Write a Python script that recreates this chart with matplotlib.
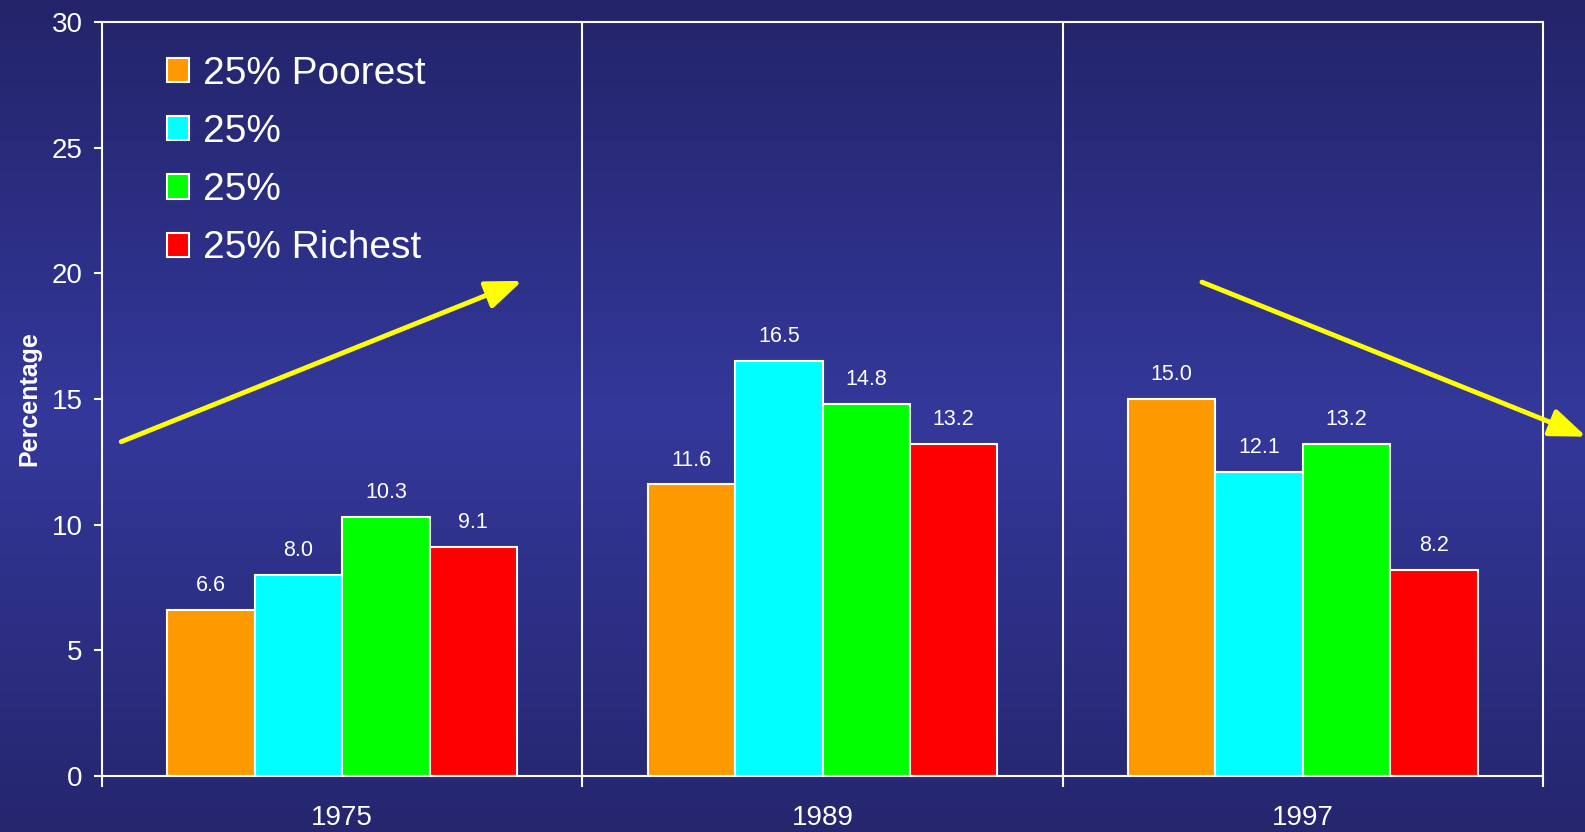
import numpy as np
import matplotlib.pyplot as plt
from matplotlib.colors import LinearSegmentedColormap

plt.rcParams['font.family'] = ['Liberation Sans', 'DejaVu Sans']

# data
years = ["1975", "1989", "1997"]
groups = ["25% Poorest", "25%", "25%", "25% Richest"]
poorest = [6.6, 11.6, 15.0]
second = [8.0, 16.5, 12.1]
third = [10.3, 14.8, 13.2]
richest = [9.1, 13.2, 8.2]
colors = ["#ff9900", "#00ffff", "#00ff00", "#ff0000"]

# trend arrows (data coords): start, end
arrow_up = ((-0.46, 13.3), (0.375, 19.7))
arrow_down = ((1.79, 19.65), (2.59, 13.5))

fig = plt.figure(figsize=(15.85, 8.32), dpi=100)

# background gradient: dark navy top and bottom, brighter blue in the middle
bg = fig.add_axes([0, 0, 1, 1], zorder=0)
cmap = LinearSegmentedColormap.from_list(
    "bg", [(0.0, "#23246a"), (0.5, "#34389a"), (1.0, "#25266e")])
grad = np.linspace(0, 1, 256).reshape(-1, 1)
bg.imshow(grad, aspect="auto", cmap=cmap, extent=[0, 1, 0, 1])
bg.axis("off")

ax = fig.add_axes([102 / 1585, 1 - 776 / 832, (1543 - 102) / 1585, (776 - 22) / 832], zorder=1)
ax.set_facecolor("none")

x = np.arange(len(years))
w = 0.182
series = [poorest, second, third, richest]
for i, (vals, c, lab) in enumerate(zip(series, colors, groups)):
    pos = x + (i - 1.5) * w
    ax.bar(pos, vals, width=w, color=c, edgecolor="white", linewidth=1.5, label=lab)
    for px, v in zip(pos, vals):
        ax.annotate(f"{v:.1f}", (px, v), xytext=(0, 10), textcoords="offset points",
                    ha="center", va="bottom", color="white", fontsize=15.5)

ax.set_xlim(-0.5, 2.5)
ax.set_ylim(0, 30)
ax.set_yticks(range(0, 31, 5))

for b in (0.5, 1.5):
    ax.axvline(b, color="white", linewidth=1.5)

for s in ax.spines.values():
    s.set_color("white")
    s.set_linewidth(1.5)

ax.set_xticks(x)
ax.set_xticklabels(years)
ax.set_xticks([-0.5, 0.5, 1.5, 2.5], minor=True)
ax.tick_params(axis="x", which="major", length=0, pad=21, labelsize=20, colors="white")
ax.tick_params(axis="x", which="minor", length=8, width=1.5, color="white")
ax.tick_params(axis="y", length=6, width=1.5, pad=8, labelsize=20, colors="white")

ax.set_ylabel("Percentage", color="white", fontsize=18, fontweight="bold", labelpad=7)

for (start, end) in (arrow_up, arrow_down):
    ax.annotate("", xy=end, xytext=start, annotation_clip=False,
                arrowprops=dict(arrowstyle="-|>,head_length=2.2,head_width=0.85",
                                color="#ffff00", lw=3.5, shrinkA=0, shrinkB=0))

leg = ax.legend(loc="upper left", bbox_to_anchor=(0.045, 0.955), frameon=False,
                fontsize=28, handlelength=0.58, handleheight=0.58,
                handletextpad=0.35, labelspacing=0.57, borderaxespad=0, borderpad=0)
for t in leg.get_texts():
    t.set_color("white")

fig.savefig("out.png", dpi=100)
